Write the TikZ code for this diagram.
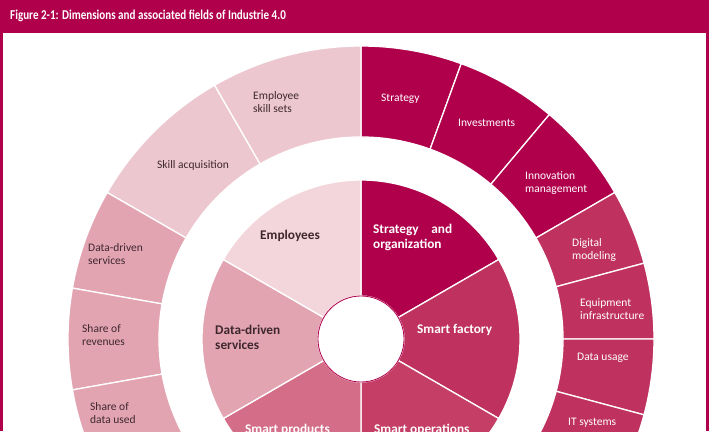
\documentclass[tikz,border=0pt]{standalone}
\usepackage{fontspec}
\setmainfont{Carlito}
\newfontfamily\titlefont[FakeStretch=0.82]{Carlito}
\usepackage{xcolor}
\usepackage{tikz}

\definecolor{crimson}{RGB}{176,0,76}
\definecolor{factory}{RGB}{191,50,96}
\definecolor{operations}{RGB}{196,62,102}
\definecolor{products}{RGB}{212,110,136}
\definecolor{datasvc}{RGB}{227,164,178}
\definecolor{staff}{RGB}{243,214,220}
\definecolor{staffout}{RGB}{237,199,207}
\definecolor{darktext}{RGB}{62,40,46}

% annular sector: style, inner radius, outer radius, start, end
\newcommand{\ringpart}[5]{%
  \path[#1] (#4:#2) arc[start angle=#4,end angle=#5,radius=#2]
    -- (#5:#3) arc[start angle=#5,end angle=#4,radius=#3] -- cycle;}

\begin{document}
\begin{tikzpicture}[
  x=1pt,y=1pt,
  font=\fontsize{11.5}{13}\selectfont,
  seg/.style={fill=#1,draw=white,line width=1.3pt},
  field/.style={anchor=west,align=left,inner sep=0pt,text=darktext},
  lightfield/.style={field,text=white},
  dimension/.style={field,font=\fontsize{13.3}{15}\selectfont\bfseries},
  lightdim/.style={dimension,text=white}
]
\useasboundingbox (0,0) rectangle (709,431);
\clip (0,0) rectangle (709,431);

% frame and title bar
\fill[crimson] (0,398) rectangle (709,431);
\fill[crimson] (0,0) rectangle (3,398);
\fill[crimson] (706,0) rectangle (709,398);
\node[anchor=west,inner sep=0pt,text=white,font=\titlefont\fontsize{13.5}{15}\selectfont\bfseries]
  (title) at (10,415) {Figure 2-1: Dimensions and associated fields of Industrie 4.0};

\begin{scope}[shift={(361,92)}]
  % outer ring: fields
  \foreach \a/\b/\c in {90/70/crimson,70/50/crimson,50/30/crimson,
                        30/15/factory,15/0/factory,0/-15/factory,-15/-30/factory,
                        90/120/staffout,120/150/staffout,
                        150/170/datasvc,170/190/datasvc,190/210/datasvc}
    \ringpart{seg=\c}{202}{293}{\a}{\b};
  % inner ring: dimensions
  \foreach \a/\b/\c in {90/30/crimson,30/-30/factory,-30/-90/operations,
                        -90/-150/products,-150/-210/datasvc,150/90/staff}
    \ringpart{seg=\c}{43}{159}{\a}{\b};
  \fill[white,draw=crimson,line width=0.8pt] (0,0) circle[radius=43];
\end{scope}

% outer labels
\node[lightfield] (strategy) at (381,332) {Strategy};
\node[lightfield] (invest) at (458,308) {Investments};
\node[lightfield] (innov) at (525,248) {Innovation\\management};
\node[lightfield] (digital) at (572,181.5) {Digital\\modeling};
\node[lightfield] (equip) at (580,121.5) {Equipment\\infrastructure};
\node[lightfield] (usage) at (577,73) {Data usage};
\node[lightfield] (itsys) at (568,8) {IT systems};
\node[field] (skills) at (253,328.5) {Employee\\skill sets};
\node[field] (acquire) at (157,266) {Skill acquisition};
\node[field] (dsvcout) at (88,176.5) {Data-driven\\services};
\node[field] (revenue) at (82,96) {Share of\\revenues};
\node[field] (dataused) at (90,17.5) {Share of\\data used};

% inner labels
\node[dimension] (employees) at (260,195) {Employees};
\node[lightdim] (strategyorg) at (373,194) {\makebox[79pt][s]{Strategy\hfill and}\\organization};
\node[lightdim] (smartfac) at (417,101) {Smart factory};
\node[dimension] (datadriven) at (215,93.5) {Data-driven\\services};
\node[lightdim,anchor=base west] (smartops) at (374,-2) {Smart operations};
\node[lightdim,anchor=base west] (smartprod) at (245,-2) {Smart products};
\end{tikzpicture}
\end{document}
